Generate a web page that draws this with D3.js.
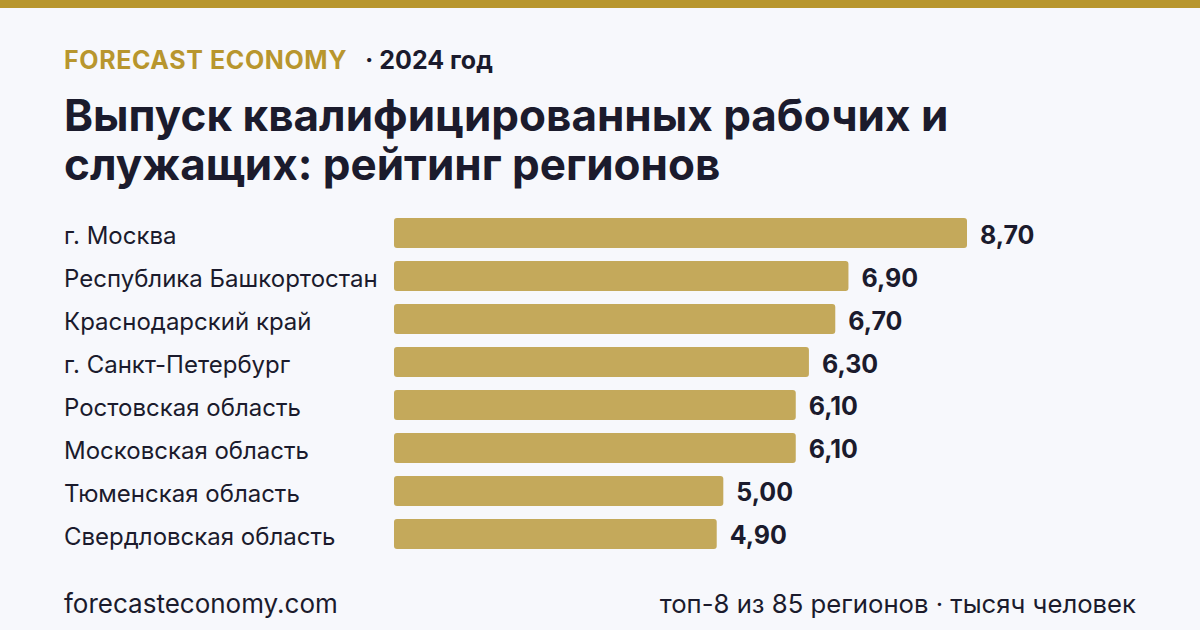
<!DOCTYPE html>
<html>
<head>
<meta charset="utf-8">
<script src="https://cdn.jsdelivr.net/npm/d3@7"></script>
<style>
  body { margin: 0; background: #f7f8fc; }
  svg text { font-family: Inter, "Noto Sans", sans-serif; }
</style>
</head>
<body>
<svg id="chart"></svg>
<script>
var regions = ["г. Москва", "Республика Башкортостан", "Краснодарский край", "г. Санкт-Петербург",
               "Ростовская область", "Московская область", "Тюменская область", "Свердловская область"];
var values = [8.7, 6.9, 6.7, 6.3, 6.1, 6.1, 5.0, 4.9];

var width = 1200, height = 630;
var gold = "#b8962e", barColor = "#c4a95b", ink = "#1b1b2d";

var svg = d3.select("#chart")
    .attr("width", width)
    .attr("height", height);

svg.append("rect").attr("width", width).attr("height", height).attr("fill", "#f7f8fc");
svg.append("rect").attr("width", width).attr("height", 8).attr("fill", gold);

// header
var head = svg.append("text")
    .attr("x", 64)
    .attr("y", 69)
    .attr("font-size", 25)
    .attr("font-weight", 700)
    .attr("letter-spacing", 0.6);
head.append("tspan").attr("fill", gold).text("FORECAST ECONOMY");
head.append("tspan").attr("fill", ink).attr("dx", 18).attr("letter-spacing", 0).text("· 2024 год");

var titleLines = ["Выпуск квалифицированных рабочих и", "служащих: рейтинг регионов"];
svg.selectAll(".title")
    .data(titleLines)
    .enter().append("text")
    .attr("class", "title")
    .attr("x", 64)
    .attr("y", function (d, i) { return 131 + i * 49; })
    .attr("font-size", 44)
    .attr("font-weight", 700)
    .attr("fill", ink)
    .text(function (d) { return d; });

var xScale = d3.scaleLinear().domain([0, 8.7]).range([394, 967]);
var yScale = d3.scaleBand().domain(regions).range([218, 549]).paddingInner(0.3).paddingOuter(0);

svg.selectAll(".bar")
    .data(values)
    .enter().append("rect")
    .attr("class", "bar")
    .attr("x", xScale(0))
    .attr("y", function (d, i) { return yScale(regions[i]); })
    .attr("width", function (d) { return xScale(d) - xScale(0); })
    .attr("height", yScale.bandwidth())
    .attr("rx", 3)
    .attr("fill", barColor);

svg.selectAll(".label")
    .data(regions)
    .enter().append("text")
    .attr("class", "label")
    .attr("x", 64)
    .attr("y", function (d) { return yScale(d) + yScale.bandwidth() / 2; })
    .attr("dy", "0.46em")
    .attr("font-size", 24)
    .attr("fill", ink)
    .text(function (d) { return d; });

svg.selectAll(".value")
    .data(values)
    .enter().append("text")
    .attr("class", "value")
    .attr("x", function (d) { return xScale(d) + 13; })
    .attr("y", function (d, i) { return yScale(regions[i]) + yScale.bandwidth() / 2; })
    .attr("dy", "0.42em")
    .attr("font-size", 25)
    .attr("font-weight", 700)
    .attr("fill", ink)
    .text(function (d) { return d.toFixed(2).replace(".", ","); });

// footer
svg.append("text")
    .attr("x", 64)
    .attr("y", 613)
    .attr("font-size", 26)
    .attr("fill", ink)
    .text("forecasteconomy.com");

svg.append("text")
    .attr("x", 1136)
    .attr("y", 613)
    .attr("text-anchor", "end")
    .attr("font-size", 25.7)
    .attr("fill", ink)
    .text("топ-8 из 85 регионов · тысяч человек");
</script>
</body>
</html>
